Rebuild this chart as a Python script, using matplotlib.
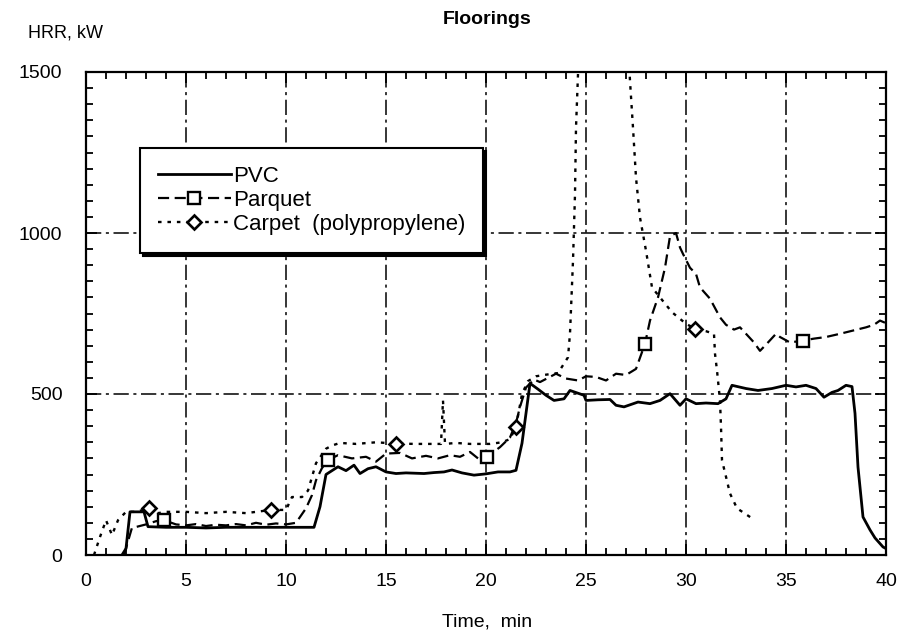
import numpy as np
import matplotlib
matplotlib.use('Agg')
import matplotlib.pyplot as plt
from matplotlib.ticker import MultipleLocator

# === 数据区：近似值 ===
# PVC（实线）
pvc_t = [1.8, 2.0, 2.2, 2.9, 3.1, 4.0, 5.0, 6.0, 7.0, 8.0, 9.0, 10.0, 11.0, 11.4, 11.7,
         12.0, 12.6, 13.0, 13.4, 13.7, 14.1, 14.5, 15.0, 15.5, 16.0, 16.9, 17.4, 17.9,
         18.3, 18.8, 19.4, 20.0, 20.6, 21.2, 21.5, 21.8, 22.2, 22.6, 23.0, 23.4, 23.9,
         24.2, 24.9, 25.0, 25.6, 26.2, 26.5, 26.9, 27.6, 28.2, 28.7, 29.2, 29.7, 30.0,
         30.5, 31.0, 31.6, 32.0, 32.3, 33.0, 33.6, 34.3, 35.0, 35.5, 36.0, 36.5, 36.9,
         37.3, 37.6, 38.0, 38.3, 38.45, 38.6, 38.85, 39.2, 39.45, 39.85, 40.0]
pvc_v = [0, 20, 134, 134, 88, 86, 86, 84, 86, 86, 86, 86, 86, 86, 150,
         250, 274, 262, 279, 253, 268, 274, 258, 253, 255, 253, 256, 258,
         264, 255, 248, 252, 258, 258, 263, 347, 533, 515, 496, 480, 485,
         511, 496, 480, 482, 483, 465, 460, 475, 470, 480, 501, 465, 485,
         470, 472, 470, 485, 527, 517, 511, 517, 527, 522, 527, 517, 490,
         505, 511, 527, 523, 440, 273, 118, 78, 53, 25, 20]

# Parquet（虚线 + 方块）
parquet_t = [1.9, 2.3, 2.5, 3.0, 3.5, 3.9, 4.5, 5.0, 5.5, 6.0, 6.5, 7.0, 7.5, 8.0, 8.5,
             9.0, 9.5, 10.0, 10.5, 11.0, 11.3, 11.5, 11.8, 12.1, 12.6, 13.3, 14.0, 14.5,
             15.0, 15.7, 16.3, 17.0, 17.6, 18.2, 18.7, 19.2, 19.6, 20.05, 20.7, 21.2,
             21.5, 21.7, 22.0, 22.4, 22.7, 23.1, 23.5, 24.0, 24.6, 25.0, 25.5, 26.0,
             26.5, 27.0, 27.5, 27.95, 28.2, 28.6, 28.95, 29.2, 29.5, 29.7, 29.85, 30.2,
             30.5, 30.7, 31.2, 31.7, 32.0, 32.4, 32.7, 33.0, 33.4, 33.7, 34.1, 34.5,
             34.7, 35.2, 35.85, 36.4, 37.0, 37.7, 38.35, 39.0, 39.4, 39.7, 40.0]
parquet_v = [0, 85, 87, 95, 105, 108, 95, 92, 96, 90, 94, 92, 96, 92, 100,
             94, 98, 95, 100, 145, 186, 232, 270, 295, 310, 300, 305, 290,
             315, 317, 300, 308, 300, 310, 305, 320, 300, 305, 335, 365,
             410, 460, 520, 545, 537, 550, 563, 548, 542, 555, 553, 542,
             563, 559, 578, 656, 728, 800, 892, 990, 1000, 955, 935, 892,
             873, 831, 796, 738, 715, 700, 707, 687, 660, 634, 660, 687,
             677, 660, 666, 672, 677, 687, 697, 707, 715, 728, 720]
parquet_mark_t = [3.9, 12.1, 20.05, 27.95, 35.85]

# Carpet（点线 + 菱形），24.7~27.1 min 超出图框
carpet_t = [0.4, 0.7, 1.0, 1.3, 1.6, 2.0, 2.5, 3.15, 3.6, 4.0, 5.0, 6.0, 7.0, 8.0, 9.25,
            10.0, 10.3, 10.8, 11.1, 11.5, 12.0, 12.3, 12.7, 13.5, 14.5, 15.5, 16.5, 17.5,
            17.75, 17.85, 17.95, 18.5, 19.2, 20.2, 20.8, 21.2, 21.5, 21.8, 22.1, 22.5,
            23.0, 23.6, 24.1, 24.2, 24.35, 24.45, 24.5, 24.6, 24.7, 27.1, 27.2, 27.35,
            27.5, 27.7, 28.0, 28.3, 28.7, 29.3, 30.0, 30.45, 31.0, 31.4, 31.45, 31.55,
            31.7, 31.75, 31.8, 32.0, 32.2, 32.55, 33.3]
carpet_v = [0, 56, 108, 62, 108, 134, 134, 145, 130, 134, 134, 130, 134, 130, 140,
            140, 180, 180, 200, 285, 330, 340, 348, 345, 350, 346, 345, 345,
            345, 480, 345, 348, 345, 345, 350, 360, 398, 500, 540, 555,
            560, 565, 614, 688, 914, 1121, 1327, 1493, 1600, 1600, 1472, 1327,
            1172, 1048, 945, 831, 800, 754, 718, 703, 695, 687, 625, 573,
            480, 398, 294, 243, 191, 145, 114]
carpet_mark_t = [3.15, 9.25, 15.5, 21.5, 30.45]

x_ticks = [0, 5, 10, 15, 20, 25, 30, 35, 40]
y_ticks = [0, 500, 1000, 1500]

# === 绘图 ===
plt.rcParams['font.family'] = ['Liberation Sans', 'DejaVu Sans']

fig = plt.figure(figsize=(8.97, 6.38), dpi=100)
ax = fig.add_axes([86 / 897, 1 - 555 / 638, 800 / 897, 483 / 638])

parquet_idx = [parquet_t.index(m) for m in parquet_mark_t]
carpet_idx = [carpet_t.index(m) for m in carpet_mark_t]

ax.plot(pvc_t, pvc_v, color='black', lw=2.0, label='PVC')
ax.plot(parquet_t, parquet_v, color='black', lw=1.6, linestyle=(0, (5, 2.5)),
        marker='s', markevery=parquet_idx, markersize=9, markerfacecolor='white',
        markeredgewidth=1.7, label='Parquet')
ax.plot(carpet_t, carpet_v, color='black', lw=1.7, linestyle=(0, (1.5, 2.5)),
        marker='D', markevery=carpet_idx, markersize=7, markerfacecolor='white',
        markeredgewidth=1.9, label='Carpet  (polypropylene)')

ax.set_xlim(0, 40)
ax.set_ylim(0, 1500)
ax.set_xticks(x_ticks)
ax.set_yticks(y_ticks)
ax.xaxis.set_minor_locator(MultipleLocator(1))
ax.yaxis.set_minor_locator(MultipleLocator(50))
ax.tick_params(which='both', direction='in', top=True, right=True, width=1.3)
ax.tick_params(which='major', length=8, labelsize=14)
ax.tick_params(axis='x', which='major', pad=13)
ax.tick_params(axis='y', which='major', pad=17)
ax.tick_params(which='minor', length=5)
for s in ax.spines.values():
    s.set_linewidth(1.6)

# 点划线网格
ax.grid(True, which='major', color='black', lw=1.1, linestyle=(0, (10, 3, 2, 3)))

leg = ax.legend(loc='upper left', bbox_to_anchor=(0.0675, 0.843), borderaxespad=0,
                fontsize=16, handlelength=3.3, labelspacing=0.15, handletextpad=0.1,
                borderpad=0.8, fancybox=False, framealpha=1, edgecolor='black',
                shadow={'color': 'black', 'alpha': 1})
leg.get_frame().set_linewidth(1.5)

fig.text(487 / 897, 1 - 20 / 638, 'Floorings', ha='center', va='center',
         fontsize=14, fontweight='bold')
fig.text(28 / 897, 1 - 33 / 638, 'HRR, kW', ha='left', va='center', fontsize=13)
fig.text(487 / 897, 1 - 622 / 638, 'Time,  min', ha='center', va='center', fontsize=14)

plt.savefig('out.png', dpi=100)
